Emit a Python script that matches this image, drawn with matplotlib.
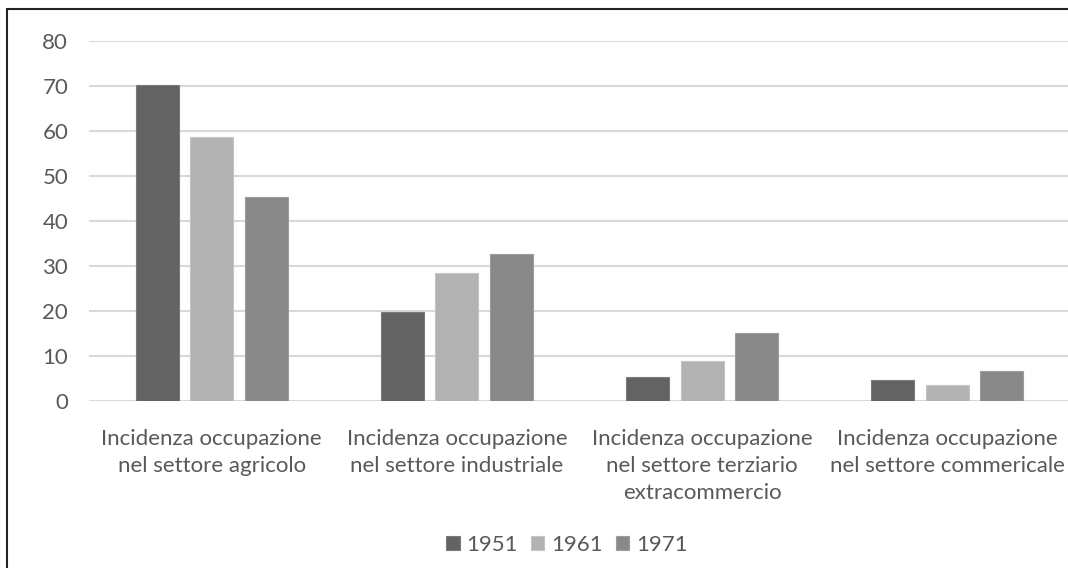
import matplotlib.pyplot as plt
import matplotlib.patches as mpatches
import numpy as np

# Incidenza occupazione per settore (%)
categories = [
    "Incidenza occupazione\nnel settore agricolo",
    "Incidenza occupazione\nnel settore industriale",
    "Incidenza occupazione\nnel settore terziario\nextracommercio",
    "Incidenza occupazione\nnel settore commericale",
]
years = ["1951", "1961", "1971"]
v1951 = [70.3, 19.7, 5.3, 4.6]
v1961 = [58.7, 28.4, 8.8, 3.5]
v1971 = [45.3, 32.6, 15.1, 6.6]
series = [v1951, v1961, v1971]
colors = ["#636363", "#b2b2b2", "#898989"]
edges = ["#7a7a7a", "#c4c4c4", "#9c9c9c"]
yticks = [0, 10, 20, 30, 40, 50, 60, 70, 80]

plt.rcParams['font.family'] = ['Lato', 'DejaVu Sans']
txt = "#595959"
fs = 16

W, H = 1068, 568
fig = plt.figure(figsize=(W / 100, H / 100), dpi=100)
ax = fig.add_axes([89 / W, 167 / H, 981 / W, 360 / H])

x = np.arange(len(categories))
bw = 0.175
step = 0.222
for i, (vals, c, ec) in enumerate(zip(series, colors, edges)):
    ax.bar(x + (i - 1) * step, vals, width=bw, color=c, edgecolor=ec,
           linewidth=0.8, label=years[i], zorder=3)

ax.set_xlim(-0.5, len(categories) - 0.5)
ax.set_ylim(0, 80)
ax.set_yticks(yticks)
ax.set_xticks(x)
ax.set_xticklabels(categories, fontsize=fs, color=txt, linespacing=1.43)
ax.tick_params(axis='y', labelsize=fs, labelcolor=txt, length=0, pad=15)
ax.tick_params(axis='x', length=0, pad=20)
ax.grid(axis='y', color="#d9d9d9", linewidth=1.5, zorder=0)
for s in ax.spines.values():
    s.set_visible(False)

leg = fig.legend(loc='center', bbox_to_anchor=(567 / W, 1 - 545 / H), ncol=3,
                 frameon=False, fontsize=fs, handlelength=0.6, handleheight=0.6,
                 handletextpad=0.3, columnspacing=0.6)
for t in leg.get_texts():
    t.set_color(txt)

# outer frame (right and bottom edges fall outside the image)
fig.patches.append(mpatches.Rectangle((7 / W, -0.1), 1.2, 1.1 - 9 / H,
                                      transform=fig.transFigure, fill=False,
                                      edgecolor="#222222", linewidth=1.5))

fig.savefig("out.png", dpi=100)
